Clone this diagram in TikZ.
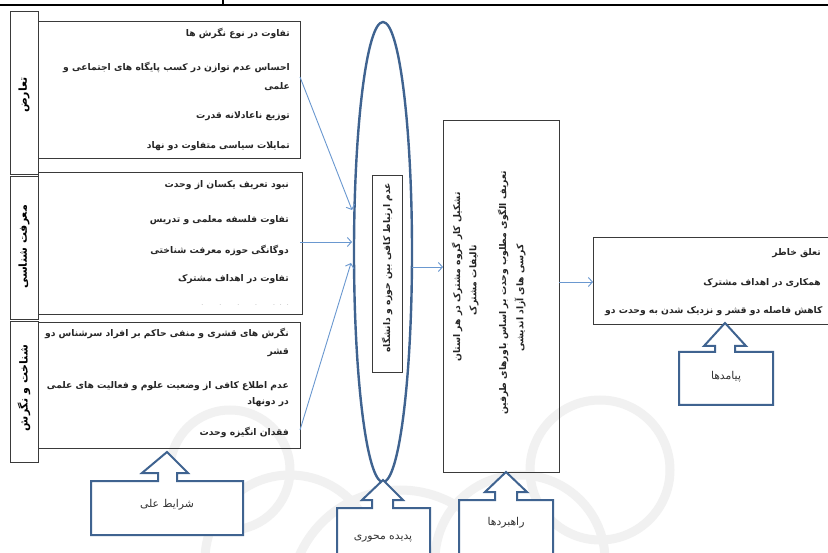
\documentclass[tikz,border=0pt]{standalone}
\usepackage{fontspec}
\newfontfamily\fa[Script=Arabic]{DejaVu Sans}
\TeXXeTstate=1
\usetikzlibrary{shapes.geometric,arrows.meta}
\definecolor{boxgray}{HTML}{3A3A3A}
\definecolor{arrowblue}{HTML}{3F6390}
\definecolor{connblue}{HTML}{6A98D0}
\definecolor{wmark}{HTML}{F1F1F1}
\newcommand{\rl}[1]{\beginR #1\endR}
\begin{document}
\begin{tikzpicture}[x=1pt,y=-1pt,
  box/.style={draw=boxgray,line width=0.8pt,inner sep=0pt},
  lbl/.style={font=\fa\bfseries\fontsize{11}{13}\selectfont,inner sep=0pt,rotate=90},
  ctxt/.style={font=\fa\bfseries\fontsize{9.2}{11}\selectfont,inner sep=0pt,text=black!85},
  rtxt/.style={font=\fa\bfseries\fontsize{9.2}{11}\selectfont,inner sep=0pt,rotate=90,text=black!85},
  btxt/.style={font=\fa\fontsize{10.8}{12}\selectfont,inner sep=0pt,text=black!80},
  blockarrow/.style={draw=arrowblue,line width=2pt,fill=white,line join=miter},
  conn/.style={draw=connblue,line width=0.9pt,-{Straight Barb[length=4pt,width=9pt]}}
]
\useasboundingbox (0,0) rectangle (828,553);
\clip (0,0) rectangle (828,553);
\fill[white] (0,0) rectangle (828,553);

% watermark
\begin{scope}[draw=wmark,line width=9pt]
  \draw (400,600) circle (110);
  \draw (290,560) circle (85);
  \draw (520,560) circle (85);
  \draw (600,470) circle (70);
  \draw (230,470) circle (60);
\end{scope}

% top rule
\coordinate (tl) at (0,5);
\coordinate (tr) at (828,5);
\coordinate (tk) at (223,0);
\coordinate (tkb) at (223,5);
\draw[line width=1.3pt] (tl) -- (tr);
\draw[line width=1.3pt] (tk) -- (tkb);

% left label column
\node[box,anchor=north west,minimum width=28pt,minimum height=163pt] (L1) at (10,11) {};
\node[box,anchor=north west,minimum width=28pt,minimum height=143pt] (L2) at (10,176) {};
\node[box,anchor=north west,minimum width=28pt,minimum height=141pt] (L3) at (10,321) {};
\node[lbl] (L1t) at (24,95) {\rl{تعارض}};
\node[lbl] (L2t) at (24,247) {\rl{معرفت شناسی}};
\node[lbl] (L3t) at (24,388) {\rl{شناخت و نگرش}};

% content boxes
\node[box,anchor=north west,minimum width=262pt,minimum height=137pt] (B1) at (38,21) {};
\node[box,anchor=north west,minimum width=264pt,minimum height=142pt] (B2) at (38,172) {};
\node[box,anchor=north west,minimum width=262pt,minimum height=126pt] (B3) at (38,322) {};

\node[ctxt,anchor=east] (b1a) at (290,33) {\rl{تفاوت در نوع نگرش ها}};
\node[ctxt,anchor=east] (b1b) at (290,67) {\rl{احساس عدم توازن در کسب پایگاه های اجتماعی و}};
\node[ctxt,anchor=east] (b1c) at (290,87) {\rl{علمی}};
\node[ctxt,anchor=east] (b1d) at (290,116) {\rl{توزیع ناعادلانه قدرت}};
\node[ctxt,anchor=east] (b1e) at (290,146) {\rl{تمایلات سیاسی متفاوت دو نهاد}};

\node[ctxt,anchor=east] (b2a) at (289,185) {\rl{نبود تعریف یکسان از وحدت}};
\node[ctxt,anchor=east] (b2b) at (289,220) {\rl{تفاوت فلسفه معلمی و تدریس}};
\node[ctxt,anchor=east] (b2c) at (289,250) {\rl{دوگانگی حوزه معرفت شناختی}};
\node[ctxt,anchor=east] (b2d) at (289,279) {\rl{تفاوت در اهداف مشترک}};
\node[ctxt,anchor=east,text=black!35,font=\fa\fontsize{6}{7}\selectfont] (b2e) at (289,305) {.\hspace{16pt}.\hspace{16pt}.\hspace{16pt}.\hspace{16pt}.\hspace{5pt}.\hspace{5pt}.};

\node[ctxt,anchor=east] (b3a) at (289,333) {\rl{نگرش های قشری و منفی حاکم بر افراد سرشناس دو}};
\node[ctxt,anchor=east] (b3b) at (289,353) {\rl{قشر}};
\node[ctxt,anchor=east] (b3c) at (289,386) {\rl{عدم اطلاع کافی از وضعیت علوم و فعالیت های علمی}};
\node[ctxt,anchor=east] (b3d) at (289,402) {\rl{در دونهاد}};
\node[ctxt,anchor=east] (b3e) at (289,432) {\rl{فقدان انگیزه وحدت}};

% core ellipse
\node[draw=arrowblue,line width=2.4pt,ellipse,minimum width=58pt,minimum height=460pt,inner sep=0pt] (core) at (383,252) {};
\node[box,anchor=north west,minimum width=30pt,minimum height=197pt] (coreb) at (372,175) {};
\node[rtxt] (coret) at (387,268) {\rl{عدم ارتباط کافی بین حوزه و دانشگاه}};

% strategies box
\node[box,anchor=north west,minimum width=116pt,minimum height=352pt] (S) at (443,120) {};
\node[rtxt] (s1) at (457,277) {\rl{تشکیل کار گروه مشترک در هر استان}};
\node[rtxt] (s2) at (474,280) {\rl{تالیفات مشترک}};
\node[rtxt] (s3) at (503,293) {\rl{تعریف الگوی مطلوب وحدت بر اساس باورهای طرفین}};
\node[rtxt] (s4) at (520,298) {\rl{کرسی های آزاد اندیشی}};

% outcomes box
\node[box,anchor=north west,minimum width=260pt,minimum height=87pt] (O) at (593,237) {};
\node[ctxt,anchor=east] (o1) at (821,253) {\rl{تعلق خاطر}};
\node[ctxt,anchor=east] (o2) at (821,283) {\rl{همکاری در اهداف مشترک}};
\node[ctxt,anchor=west] (o3) at (605,311) {\rl{کاهش فاصله دو قشر و نزدیک شدن به وحدت دو}};

% connectors
\coordinate (a1s) at (300,77);
\coordinate (a1e) at (352,210);
\coordinate (a2s) at (300,242);
\coordinate (a2e) at (352,242);
\coordinate (a3s) at (300,430);
\coordinate (a3e) at (351,263);
\coordinate (a4s) at (412,267);
\coordinate (a4e) at (443,267);
\coordinate (a5s) at (559,282);
\coordinate (a5e) at (593,282);
\draw[conn] (a1s) -- (a1e);
\draw[conn] (a2s) -- (a2e);
\draw[conn] (a3s) -- (a3e);
\draw[conn] (a4s) -- (a4e);
\draw[conn] (a5s) -- (a5e);

% block arrows
\draw[blockarrow] (91,481) -- (158,481) -- (158,473) -- (142,473) -- (167,452) -- (188,473) -- (177,473) -- (177,481) -- (243,481) -- (243,535) -- (91,535) -- cycle;
\node[btxt] (k1) at (167,505) {\rl{شرایط علی}};

\draw[blockarrow] (337,508) -- (372,508) -- (372,500) -- (362,500) -- (383,480) -- (403,500) -- (393,500) -- (393,508) -- (430,508) -- (430,560) -- (337,560) -- cycle;
\node[btxt] (k2) at (383,539) {\rl{پدیده محوری}};

\draw[blockarrow] (459,500) -- (495,500) -- (495,492) -- (485,492) -- (506,472) -- (527,492) -- (517,492) -- (517,500) -- (553,500) -- (553,560) -- (459,560) -- cycle;
\node[btxt] (k3) at (506,523) {\rl{راهبردها}};

\draw[blockarrow] (679,352) -- (715,352) -- (715,346) -- (704,346) -- (725,323) -- (746,346) -- (735,346) -- (735,352) -- (773,352) -- (773,405) -- (679,405) -- cycle;
\node[btxt] (k4) at (726,377) {\rl{پیامدها}};
\end{tikzpicture}
\end{document}
